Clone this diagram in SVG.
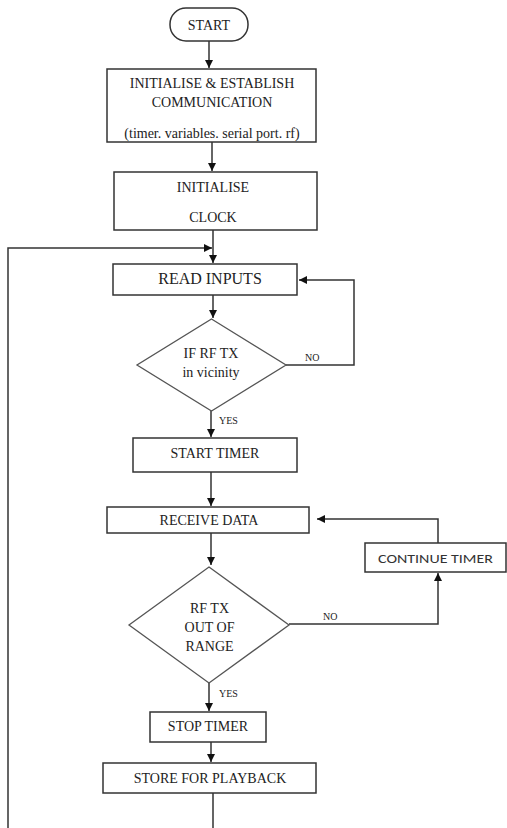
<svg xmlns="http://www.w3.org/2000/svg" width="507" height="828" viewBox="0 0 507 828">
<style>
.box{fill:#fff;stroke:#333;stroke-width:1.5}
.dia{fill:#fff;stroke:#555;stroke-width:1.3}
.t{font-family:'Liberation Serif','Times New Roman',Times,'DejaVu Serif',serif;font-size:14px;fill:#222;text-anchor:middle}
.big{font-size:16px}
.lbl{font-family:'Liberation Serif','Times New Roman',Times,'DejaVu Serif',serif;font-size:10px;fill:#222}
.sans{font-family:Carlito,'Liberation Sans',Arial,sans-serif;font-size:13px;fill:#333;text-anchor:middle}
.c{fill:none;stroke:#333;stroke-width:1.5}
</style>
<defs>
<marker id="ah" viewBox="0 0 10 10" refX="10" refY="5" markerWidth="8" markerHeight="8" markerUnits="userSpaceOnUse" orient="auto">
<path d="M0,0 L10,5 L0,10 Z" fill="#111"/>
</marker>
</defs>
<rect width="507" height="828" fill="#fff"/>
<g id="connectors">
<path class="c" d="M209,41 V68" marker-end="url(#ah)"/>
<path class="c" d="M212,142 V171" marker-end="url(#ah)"/>
<path class="c" d="M213,230 V263" marker-end="url(#ah)"/>
<path class="c" d="M213,793 V830 H8 V248 H212" marker-end="url(#ah)"/>
<path class="c" d="M213,295 V318" marker-end="url(#ah)"/>
<path class="c" d="M286,365 H354 V280 H299" marker-end="url(#ah)"/>
<path class="c" d="M211,411 V437" marker-end="url(#ah)"/>
<path class="c" d="M211,472 V506" marker-end="url(#ah)"/>
<path class="c" d="M211,533 V565" marker-end="url(#ah)"/>
<path class="c" d="M289,624 H438 V573" marker-end="url(#ah)"/>
<path class="c" d="M438,543 V519 H317" marker-end="url(#ah)"/>
<path class="c" d="M209,683 V711" marker-end="url(#ah)"/>
<path class="c" d="M211,742 V762" marker-end="url(#ah)"/>
<text class="lbl" x="305" y="361">NO</text>
<text class="lbl" x="219" y="424">YES</text>
<text class="lbl" x="323" y="620">NO</text>
<text class="lbl" x="219" y="697">YES</text>
</g>
<g id="start">
<rect class="box" x="170" y="8" width="78" height="33" rx="16" ry="16"/>
<text class="t" x="209" y="30">START</text>
</g>
<g id="init">
<rect class="box" x="107" y="69" width="209" height="73"/>
<text class="t" x="212" y="88">INITIALISE &amp; ESTABLISH</text>
<text class="t" x="212" y="107">COMMUNICATION</text>
<text class="t" x="212" y="138">(timer. variables. serial port. rf)</text>
</g>
<g id="clock">
<rect class="box" x="114" y="172" width="203" height="58"/>
<text class="t" x="213" y="192">INITIALISE</text>
<text class="t" x="213" y="222">CLOCK</text>
</g>
<g id="read">
<rect class="box" x="113" y="264" width="184" height="31"/>
<text class="t big" x="210" y="284">READ INPUTS</text>
</g>
<g id="dec1">
<polygon class="dia" points="211.5,319 286,365 211.5,411 137,365"/>
<text class="t" x="211" y="358">IF RF TX</text>
<text class="t" x="211" y="377">in vicinity</text>
</g>
<g id="starttimer">
<rect class="box" x="133" y="438" width="164" height="34"/>
<text class="t" x="215" y="458">START TIMER</text>
</g>
<g id="receive">
<rect class="box" x="107" y="507" width="202" height="26"/>
<text class="t" x="209" y="525">RECEIVE DATA</text>
</g>
<g id="dec2">
<polygon class="dia" points="209,567 289,625 209,683 129,625"/>
<text class="t" x="209.5" y="613">RF TX</text>
<text class="t" x="209.5" y="632">OUT OF</text>
<text class="t" x="209.5" y="651">RANGE</text>
</g>
<g id="continue">
<rect class="box" x="365" y="543" width="141" height="29"/>
<text class="sans" x="435.5" y="563" textLength="115" lengthAdjust="spacingAndGlyphs">CONTINUE TIMER</text>
</g>
<g id="stop">
<rect class="box" x="150" y="712" width="116" height="30"/>
<text class="t" x="208" y="731">STOP TIMER</text>
</g>
<g id="store">
<rect class="box" x="103" y="763" width="213" height="30"/>
<text class="t" x="210" y="783">STORE FOR PLAYBACK</text>
</g>
</svg>
